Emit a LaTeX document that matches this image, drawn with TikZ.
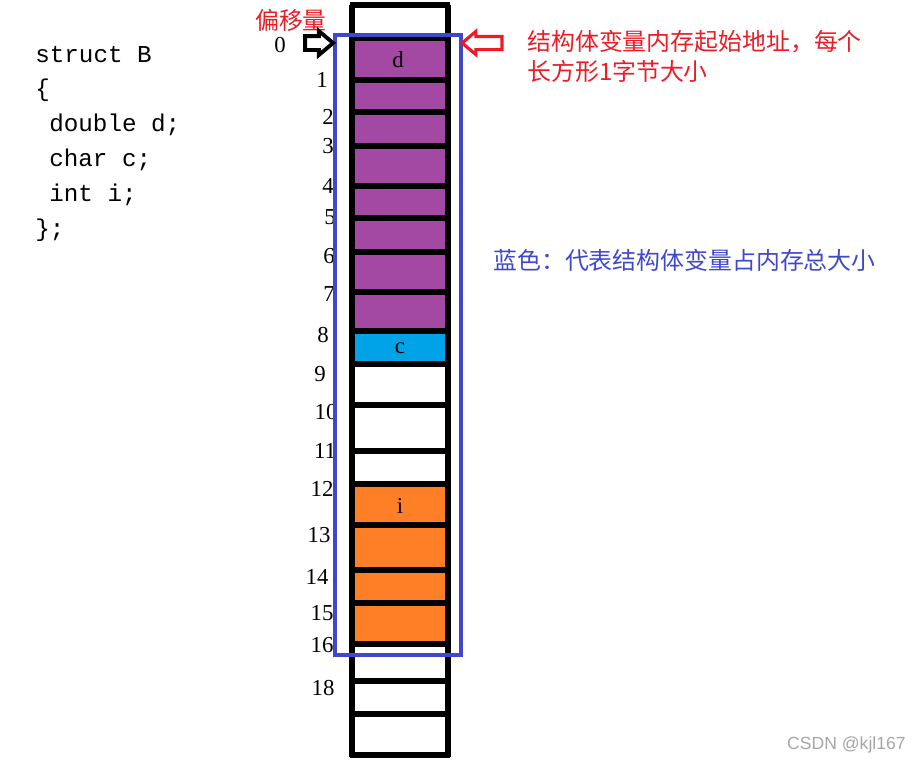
\documentclass[tikz,border=0pt]{standalone}
\usepackage{fontspec}
\setmainfont{Liberation Serif}
\setmonofont{Liberation Mono}
\newfontfamily\cjk{Noto Sans CJK SC}
\usetikzlibrary{shapes.arrows}

\definecolor{dpurple}{RGB}{163,73,164}
\definecolor{ccyan}{RGB}{0,162,232}
\definecolor{iorange}{RGB}{255,127,39}
\definecolor{sred}{RGB}{237,28,36}
\definecolor{sblue}{RGB}{63,72,204}

\begin{document}
\begin{tikzpicture}[x=0.02cm,y=-0.02cm,
	wall/.style={line width=3.3pt},
	ofs/.style={font=\fontsize{13}{14}\selectfont},
	code/.style={anchor=west,inner sep=0pt,font=\ttfamily\fontsize{13.8}{15}\selectfont},
	note/.style={anchor=west,inner sep=0pt,font=\cjk\fontsize{13.6}{16}\selectfont},
	hollow/.style={single arrow,draw,inner xsep=0pt,inner ysep=0.1cm,minimum width=0.42cm,
		single arrow head extend=0.1cm,single arrow tip angle=80}]
\useasboundingbox (0,0) rectangle (921,765);

	% struct source
	\node[code] (l1) at (35,55) {struct B};
	\node[code] (l2) at (35,90) {\{};
	\node[code] (l3) at (49,125) {double d;};
	\node[code] (l4) at (49,160) {char c;};
	\node[code] (l5) at (49,195) {int i;};
	\node[code] (l6) at (35,230) {\};};

	% cells
	\foreach \top/\bot/\col in {5/38/white, 38/80/dpurple, 80/112/dpurple, 112/146/dpurple,
		146/186/dpurple, 186/218/dpurple, 218/252/dpurple, 252/292/dpurple, 292/331/dpurple,
		331/364/ccyan, 364/405/white, 405/451/white, 451/484/white, 484/525/iorange,
		525/570/iorange, 570/603/iorange, 603/644/iorange, 644/681/white, 681/714/white, 714/755/white}
		\fill[\col] (352,\top) rectangle (448,\bot);
	% separators
	\foreach \y in {5,38,80,112,146,186,218,252,292,331,364,405,451,484,525,570,603,644,681,714,755}
		\draw[wall] (350,\y) -- (450,\y);
	% walls
	\draw[wall] (352,5) -- (352,757);
	\draw[wall] (448,5) -- (448,757);

	\node[ofs] (d) at (398,60) {d};
	\node[ofs] (c) at (400,348) {c};
	\node[ofs] (i) at (400,506) {i};

	% offsets
	\foreach \n/\x/\y in {0/280/45, 1/322/80, 2/328/117, 3/328/146, 4/328/186, 5/330/217,
		6/329/256, 7/329/294, 8/323/335, 9/320/374, 10/326/412, 11/325/451, 12/322/489,
		13/319/535, 14/317/577, 15/322/613, 16/322/645, 18/323/688}
		\node[ofs] (o\n) at (\x,\y) {\n};
	\node[note,text=sred,anchor=center] (offset) at (291,20) {偏移量};

	% size of struct
	\draw[sblue,line width=2.3pt] (335,35) rectangle (461,655);

	% arrows
	\node[hollow,draw=black,line width=2.2pt,minimum height=0.56cm] (ptr) at (315,43) {};
	\node[hollow,draw=sred,line width=1.8pt,minimum height=0.8cm,shape border rotate=180] (start) at (486,43) {};

	\node[note,text=sred] (addr1) at (527,42) {结构体变量内存起始地址，每个};
	\node[note,text=sred] (addr2) at (527,71) {长方形1字节大小};
	\node[note,text=sblue] (blue) at (493,260) {蓝色：代表结构体变量占内存总大小};

	\node[anchor=east,inner sep=0pt,text=black!35,font=\fontsize{10}{12}\selectfont] (mark) at (906,745) {\fontspec{Liberation Sans}CSDN @kjl167};
\end{tikzpicture}
\end{document}
